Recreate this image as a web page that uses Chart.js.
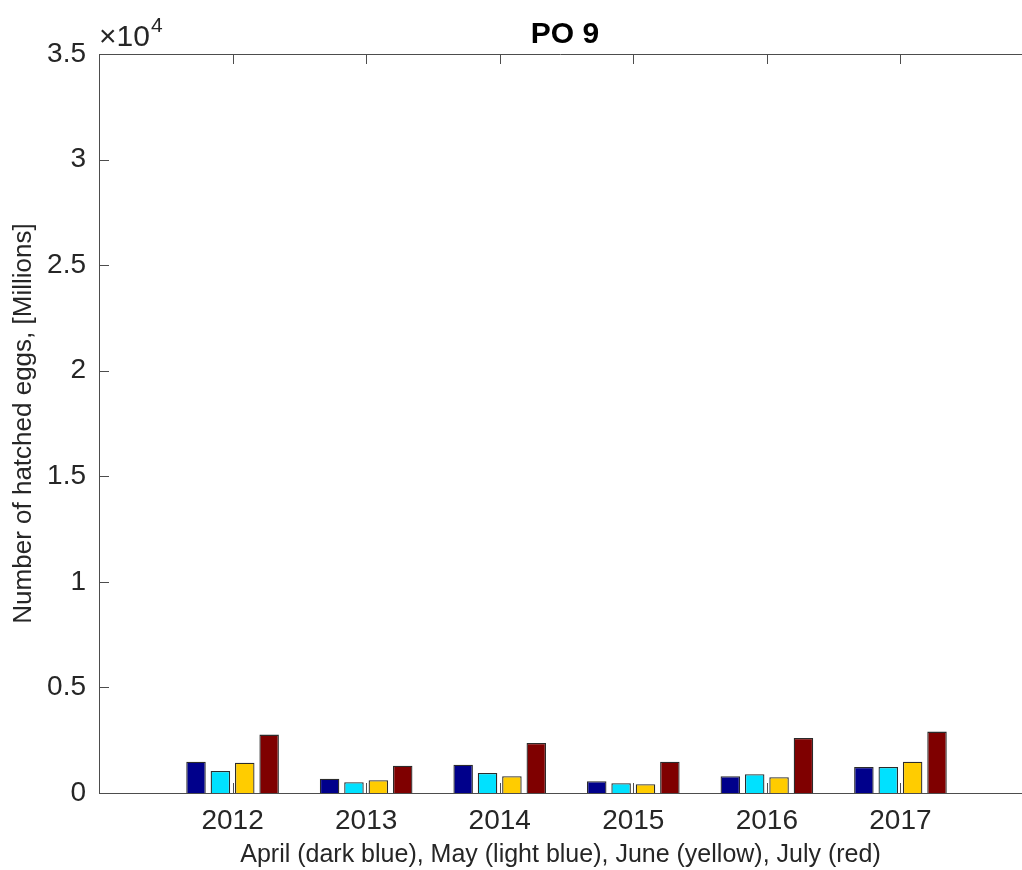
<!DOCTYPE html>
<html>
<head>
<meta charset="utf-8">
<title>PO 9</title>
<script src="https://cdn.jsdelivr.net/npm/chart.js@4/dist/chart.umd.min.js"></script>
<style>
  html, body { margin: 0; padding: 0; background: #fff; overflow: hidden; }
  #chart { display: block; }
</style>
</head>
<body>
<canvas id="chart" width="1022" height="870"></canvas>
<script>
// values (millions of hatched eggs)
const years = [2012, 2013, 2014, 2015, 2016, 2017];
const april = [1485, 678, 1342, 555, 791, 1233];
const may = [1043, 507, 948, 460, 886, 1233];
const june = [1437, 602, 791, 413, 744, 1485];
const july = [2765, 1295, 2371, 1485, 2608, 2907];
const yTicks = [0, 5000, 10000, 15000, 20000, 25000, 30000, 35000];
const yTickLabels = ['0', '0.5', '1', '1.5', '2', '2.5', '3', '3.5'];

const FONT = '"Liberation Sans", Arial, Helvetica, sans-serif';
const TEXT = '#262626';
const AXIS = '#4d4d4d';

// matlab style: ticks drawn inward, box line on top, exponent label
const matlabAxes = {
    id: 'matlabAxes',
    beforeDatasetsDraw(chart) {
        const { ctx, chartArea: a, scales: { x, y } } = chart;
        ctx.save();
        ctx.strokeStyle = AXIS;
        ctx.lineWidth = 1;
        ctx.beginPath();
        yTicks.forEach(v => {
            const py = Math.round(y.getPixelForValue(v)) + 0.5;
            ctx.moveTo(a.left, py);
            ctx.lineTo(a.left + 10, py);
        });
        years.forEach(v => {
            const px = Math.round(x.getPixelForValue(v)) + 0.5;
            ctx.moveTo(px, a.bottom);
            ctx.lineTo(px, a.bottom - 10);
            ctx.moveTo(px, a.top);
            ctx.lineTo(px, a.top + 10);
        });
        ctx.stroke();
        ctx.restore();
    },
    afterDraw(chart) {
        const { ctx, chartArea: a } = chart;
        ctx.save();
        ctx.strokeStyle = AXIS;
        ctx.lineWidth = 1;
        ctx.beginPath();
        ctx.moveTo(a.left, Math.round(a.top) + 0.5);
        ctx.lineTo(a.right, Math.round(a.top) + 0.5);
        ctx.stroke();

        ctx.fillStyle = '#000';
        ctx.textAlign = 'center';
        ctx.textBaseline = 'alphabetic';
        ctx.font = 'bold 30px ' + FONT;
        ctx.fillText('PO 9', 565, 43);

        ctx.fillStyle = TEXT;
        ctx.textAlign = 'left';
        ctx.font = '30px ' + FONT;
        ctx.fillText('\u00d710', 99, 46);
        const w = ctx.measureText('\u00d710').width;
        ctx.font = '21px ' + FONT;
        ctx.fillText('4', 99 + w + 1, 32);
        ctx.restore();
    }
};

const barStyle = (label, data, color) => ({
    label,
    data,
    backgroundColor: color,
    borderColor: '#2b2b2b',
    borderWidth: 1.3,
    categoryPercentage: 0.73,
    barPercentage: 0.8
});

new Chart(document.getElementById('chart'), {
    type: 'bar',
    data: {
        labels: years,
        datasets: [
            barStyle('April', april, '#00008b'),
            barStyle('May', may, '#00e1ff'),
            barStyle('June', june, '#ffcc00'),
            barStyle('July', july, '#7f0000')
        ]
    },
    options: {
        responsive: false,
        animation: false,
        layout: { padding: { top: 54, left: 0, right: 0, bottom: 0 } },
        plugins: {
            legend: { display: false },
            title: { display: false },
            tooltip: { enabled: false }
        },
        scales: {
            x: {
                type: 'linear',
                min: 2011,
                max: 2017.91,
                offset: false,
                grid: { display: false, drawTicks: false },
                border: { display: true, color: AXIS, width: 1 },
                afterBuildTicks(scale) {
                    scale.ticks = years.map(v => ({ value: v }));
                },
                afterFit(scale) { scale.height = 77; },
                ticks: {
                    color: TEXT,
                    font: { family: FONT, size: 28 },
                    padding: 11,
                    maxRotation: 0,
                    callback: v => String(v)
                },
                title: {
                    display: true,
                    text: 'April (dark blue), May (light blue), June (yellow), July (red)',
                    color: TEXT,
                    font: { family: FONT, size: 25 },
                    padding: { top: 0, bottom: 0 }
                }
            },
            y: {
                min: 0,
                max: 35000,
                grid: { display: false, drawTicks: false },
                border: { display: true, color: AXIS, width: 1 },
                afterBuildTicks(scale) {
                    scale.ticks = yTicks.map(v => ({ value: v }));
                },
                afterFit(scale) { scale.width = 99; },
                ticks: {
                    color: TEXT,
                    font: { family: FONT, size: 28 },
                    padding: 13,
                    callback: (v) => yTickLabels[yTicks.indexOf(v)]
                },
                title: {
                    display: true,
                    text: 'Number of hatched eggs, [Millions]',
                    color: TEXT,
                    font: { family: FONT, size: 26 },
                    padding: { top: 8, bottom: 0 }
                }
            }
        }
    },
    plugins: [matlabAxes]
});
</script>
</body>
</html>
